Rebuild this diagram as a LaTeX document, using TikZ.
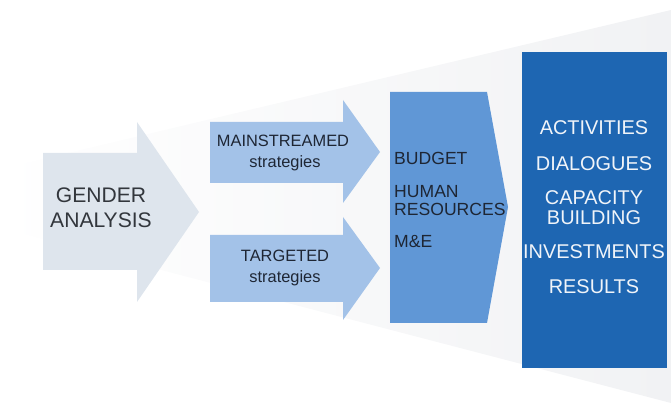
\documentclass[tikz,border=0pt]{standalone}
\usepackage{fontspec}
\setmainfont{Liberation Sans}
\usetikzlibrary{positioning}
\definecolor{funnelgray}{RGB}{241,242,244}
\definecolor{gendergray}{RGB}{222,229,237}
\definecolor{stratblue}{RGB}{163,194,232}
\definecolor{midblue}{RGB}{96,151,214}
\definecolor{deepblue}{RGB}{30,102,178}
\definecolor{inkgray}{RGB}{50,54,60}
\definecolor{inknavy}{RGB}{30,38,52}
\definecolor{inkwhite}{RGB}{240,244,249}
\tikzstyle{caps} = [inner sep=0pt, text height=0.716em, text depth=0pt]
\tikzstyle{gendertext} = [caps, text=inkgray, font=\fontsize{18}{22}\selectfont]
\tikzstyle{strattext} = [caps, text=inknavy, font=\fontsize{14}{17}\selectfont]
\tikzstyle{midtext} = [caps, anchor=west, text=inknavy, font=\fontsize{15}{18}\selectfont]
\tikzstyle{listtext} = [caps, text=inkwhite, font=\fontsize{17}{20}\selectfont]

\begin{document}
\begin{tikzpicture}[x=0.03cm, y=-0.03cm]
\useasboundingbox (0,0) rectangle (671,405);
% faint funnel behind the chain
\shade[left color=white, right color=funnelgray] (0,169) -- (671,10) -- (671,403) -- (0,228) -- cycle;

% arrows and boxes
\fill[gendergray] (43,153) -- (137,153) -- (137,122) -- (199,212) -- (137,302) -- (137,270) -- (43,270) -- cycle;
\fill[stratblue] (210,122) -- (343,122) -- (343,100) -- (380,152) -- (343,203) -- (343,183) -- (210,183) -- cycle;
\fill[stratblue] (210,235) -- (343,235) -- (343,217) -- (380,268) -- (343,320) -- (343,302) -- (210,302) -- cycle;
\fill[midblue] (390,92) -- (487,92) -- (508,207) -- (487,323) -- (390,323) -- cycle;
\fill[deepblue] (522,52) rectangle (667,368);

% texts
\node (gender) [gendertext] at (101,198) {GENDER};
\node (analysis) [gendertext] at (101,223) {ANALYSIS};
\node (main) [strattext] at (283,142) {MAINSTREAMED};
\node (mainstr) [strattext] at (285,163) {strategies};
\node (targ) [strattext] at (285,257) {TARGETED};
\node (targstr) [strattext] at (285,278) {strategies};
\node (budget) [midtext] at (394,160) {BUDGET};
\node (human) [midtext] at (394,193) {HUMAN};
\node (resources) [midtext] at (394,211) {RESOURCES};
\node (me) [midtext] at (394,243) {M\&E};
\node (act) [listtext] at (594,130) {ACTIVITIES};
\node (dial) [listtext] at (594,166) {DIALOGUES};
\node (cap) [listtext] at (594,200) {CAPACITY};
\node (build) [listtext] at (594,220) {BUILDING};
\node (inv) [listtext] at (594,254) {INVESTMENTS};
\node (res) [listtext] at (594,289) {RESULTS};
\end{tikzpicture}
\end{document}
